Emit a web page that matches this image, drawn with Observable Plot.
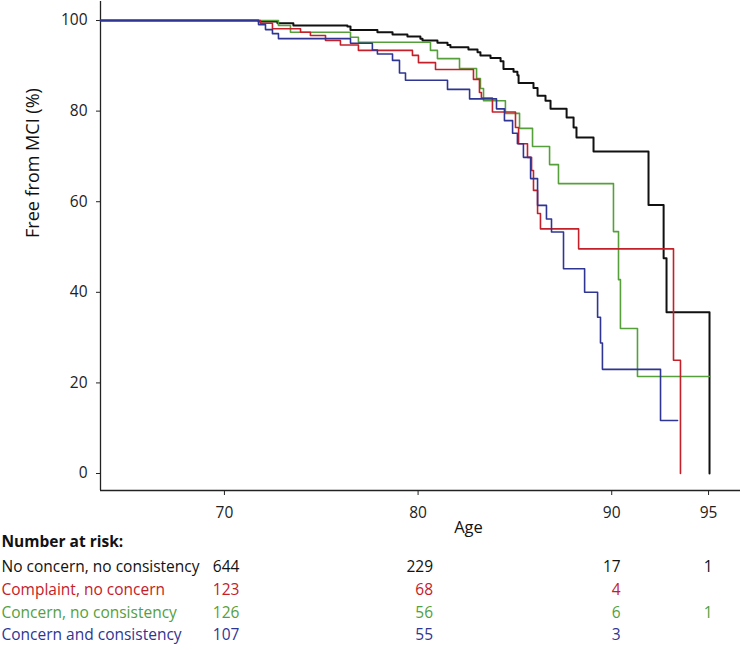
<!DOCTYPE html>
<html>
<head>
<meta charset="utf-8">
<script src="https://cdn.jsdelivr.net/npm/d3@7"></script>
<script src="https://cdn.jsdelivr.net/npm/@observablehq/plot@0.6"></script>
<style>
  html, body { margin: 0; padding: 0; background: #fff; }
  #chart { width: 741px; height: 650px; }
</style>
</head>
<body>
<div id="chart"></div>
<script>
// ---- Kaplan–Meier step data (age, % free from MCI) ----
const blackAge = [63.6, 71.76, 72.74, 73.56, 76.35, 76.51, 77.90, 78.68, 79.45, 80.12, 80.23, 81.00, 81.52, 81.67, 82.60, 83.07, 83.22, 83.74, 84.26, 84.41, 84.93, 85.13, 85.19, 85.96, 86.17, 86.58, 86.84, 87.67, 88.03, 88.18, 89.06, 91.90, 92.68, 92.83, 95.05];
const blackSurv = [100, 99.8, 99.4, 98.9, 98.7, 97.9, 97.4, 96.9, 96.5, 96.0, 95.6, 95.1, 94.6, 94.1, 93.6, 93.0, 92.3, 91.7, 91.0, 89.3, 88.7, 87.9, 86.2, 85.1, 83.4, 82.3, 80.5, 78.6, 76.4, 74.2, 71.1, 59.3, 47.5, 35.6, 0];

const redAge = [63.6, 71.86, 72.48, 73.93, 74.44, 75.22, 75.99, 76.92, 79.71, 80.02, 80.90, 82.86, 83.17, 83.27, 83.84, 85.03, 85.19, 85.65, 85.86, 85.96, 86.17, 86.32, 88.29, 93.19, 93.55];
const redSurv = [100, 99.4, 98.2, 97.4, 96.7, 95.6, 94.6, 93.4, 92.3, 90.7, 89.2, 87.0, 84.1, 82.9, 79.8, 76.4, 72.8, 69.8, 66.9, 62.5, 57.4, 54.0, 49.6, 25.0, 0];

const greenAge = [63.6, 72.79, 73.41, 76.51, 76.92, 80.64, 81.00, 82.14, 83.02, 83.22, 83.38, 84.51, 85.24, 85.91, 86.79, 87.25, 90.09, 90.35, 90.45, 91.33, 95.05];
const greenSurv = [100, 98.9, 97.4, 96.3, 95.2, 93.4, 91.6, 89.4, 87.2, 85.0, 82.3, 79.5, 76.2, 72.2, 68.2, 64.0, 53.4, 42.8, 32.0, 21.4, 21.4];

const blueAge = [63.6, 71.76, 72.12, 72.48, 72.79, 76.51, 77.64, 77.90, 78.68, 79.04, 79.35, 81.52, 82.66, 84.05, 84.46, 84.88, 85.13, 85.44, 85.81, 86.17, 86.63, 86.89, 87.51, 88.60, 89.27, 89.42, 89.52, 92.52, 93.40];
const blueSurv = [100, 99.1, 98.0, 97.1, 96.0, 95.0, 93.5, 92.6, 91.2, 88.4, 86.8, 84.8, 82.7, 80.5, 77.9, 75.1, 72.8, 69.8, 65.1, 59.2, 56.2, 53.3, 45.2, 40.0, 34.5, 28.8, 23.0, 11.7, 11.7];

// ---- Axis ticks ----
const xTicks = [70, 80, 90, 95];
const yTicks = [0, 20, 40, 60, 80, 100];

// ---- Number at risk table ----
const riskAges = [70, 80, 90, 95];
const riskGroups = ["No concern, no consistency", "Complaint, no concern", "Concern, no consistency", "Concern and consistency"];
const riskNoConcern = [644, 229, 17, 1];
const riskComplaint = [123, 68, 4, null];
const riskConcern = [126, 56, 6, 1];
const riskConsistency = [107, 55, 3, null];

// ---- Styles ----
const colors = ["#111111", "#c4202a", "#55a03a", "#2f3592"];
const xDomain = [63.6, 96.65];
const yDomain = [-3.75, 104.2];
const rowDy = [81, 104, 127, 149];
const colDx = [15, 15, 9, 4];
const tableFont = 15.5;

const riskRows = [riskNoConcern, riskComplaint, riskConcern, riskConsistency];

const tableMarks = [];
tableMarks.push(Plot.text(["Number at risk:"], {
  frameAnchor: "bottom-left", dx: -99, dy: 56, textAnchor: "start",
  fontWeight: "bold", fontSize: tableFont, fill: "#111"
}));
riskGroups.forEach((g, r) => {
  tableMarks.push(Plot.text([g], {
    frameAnchor: "bottom-left", dx: -99, dy: rowDy[r], textAnchor: "start",
    fontSize: tableFont, fill: colors[r]
  }));
  riskAges.forEach((a, c) => {
    const n = riskRows[r][c];
    if (n == null) return;
    tableMarks.push(Plot.text([n], {
      x: () => a, text: d => String(d), frameAnchor: "bottom",
      dy: rowDy[r], dx: colDx[c], textAnchor: "end",
      fontSize: tableFont, fill: colors[r]
    }));
  });
});

const chart = Plot.plot({
  width: 741,
  height: 650,
  marginLeft: 100,
  marginRight: 1,
  marginTop: 1,
  marginBottom: 160,
  style: { fontFamily: "'Open Sans', sans-serif", fontSize: "15px", color: "#222", background: "#fff" },
  x: { domain: xDomain },
  y: { domain: yDomain },
  marks: [
    Plot.axisY({ ticks: yTicks, tickSize: 4, tickPadding: 9, label: null, fontSize: 15.5, stroke: "#222" }),
    Plot.axisX({ ticks: xTicks, tickSize: 5, tickPadding: 11, label: null, fontSize: 15.5, stroke: "#222" }),
    Plot.ruleX([xDomain[0]], { stroke: "#222", strokeWidth: 1.3 }),
    Plot.ruleY([yDomain[0]], { stroke: "#222", strokeWidth: 1.3 }),
    Plot.line(blackSurv, { x: blackAge, y: blackSurv, curve: "step-after", stroke: colors[0], strokeWidth: 2 }),
    Plot.line(greenSurv, { x: greenAge, y: greenSurv, curve: "step-after", stroke: colors[2], strokeWidth: 1.6 }),
    Plot.line(redSurv, { x: redAge, y: redSurv, curve: "step-after", stroke: colors[1], strokeWidth: 1.6 }),
    Plot.line(blueSurv, { x: blueAge, y: blueSurv, curve: "step-after", stroke: colors[3], strokeWidth: 1.6 }),
    Plot.text(["Free from MCI (%)"], { frameAnchor: "left", rotate: -90, dx: -67, dy: -8, fontSize: 18, fill: "#111" }),
    Plot.text(["Age"], { frameAnchor: "bottom", dx: 48, dy: 42, fontSize: 16.5, fill: "#111" }),
    ...tableMarks
  ]
});
document.getElementById("chart").appendChild(chart);
</script>
</body>
</html>
